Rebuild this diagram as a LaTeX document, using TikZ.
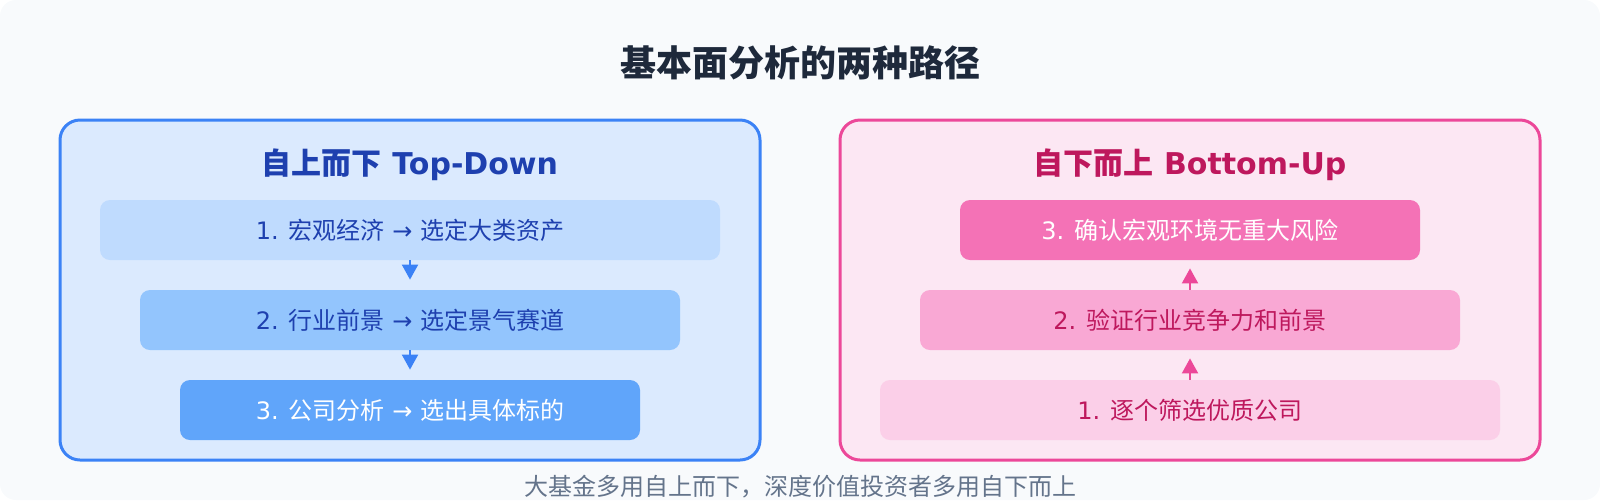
\documentclass[tikz,border=0pt]{standalone}
\usepackage{fontspec}
\setmainfont{Noto Sans CJK SC}
\newfontfamily\latin{DejaVu Sans}
\usetikzlibrary{arrows.meta}
\definecolor{bgcol}{HTML}{F8FAFC}
\definecolor{titlecol}{HTML}{1E293B}
\definecolor{notecol}{HTML}{64748B}
\definecolor{tdline}{HTML}{3B82F6}
\definecolor{tdfill}{HTML}{DBEAFE}
\definecolor{tdtext}{HTML}{1E40AF}
\definecolor{tdone}{HTML}{BFDBFE}
\definecolor{tdtwo}{HTML}{93C5FD}
\definecolor{tdthree}{HTML}{60A5FA}
\definecolor{buline}{HTML}{EC4899}
\definecolor{bufill}{HTML}{FCE7F3}
\definecolor{butext}{HTML}{BE185D}
\definecolor{buone}{HTML}{FBCFE8}
\definecolor{butwo}{HTML}{F9A8D4}
\definecolor{buthree}{HTML}{F472B6}
\newcommand\lat[1]{{\latin #1}}
\newcommand\tdx{410}
\newcommand\bux{1190}

\begin{document}
\begin{tikzpicture}[x=0.5pt,y=-0.5pt,
    panel/.style={rounded corners=10pt, line width=1.5pt},
    panelhead/.style={font=\fontsize{15}{17}\selectfont\bfseries},
    stepbox/.style={rounded corners=5pt, minimum height=30pt, inner sep=0pt, font=\fontsize{12}{14}\selectfont},
    flow/.style={line width=1pt, -{Triangle[width=8pt,length=7.5pt]}}
]
    \useasboundingbox (0,0) rectangle (1600,500);
    % --- Background
    \fill[bgcol, rounded corners=8pt] (0,0) rectangle (1600,500);
    \node[font=\fontsize{18}{20}\selectfont\bfseries, text=titlecol] (title) at (800,63) {基本面分析的两种路径};
    % --- Top-Down panel
    \draw[panel, draw=tdline, fill=tdfill] (60,120) rectangle (760,460);
    \node[panelhead, text=tdtext] (tdhead) at (\tdx,165) {自上而下\lat{ Top-Down}};
    \node[stepbox, fill=tdone, text=tdtext, minimum width=310pt] (td1) at (\tdx,230) {\lat{1. }宏观经济\lat{ → }选定大类资产};
    \node[stepbox, fill=tdtwo, text=tdtext, minimum width=270pt] (td2) at (\tdx,320) {\lat{2. }行业前景\lat{ → }选定景气赛道};
    \node[stepbox, fill=tdthree, text=white, minimum width=230pt] (td3) at (\tdx,410) {\lat{3. }公司分析\lat{ → }选出具体标的};
    \draw[flow, tdline, shorten >=5pt] (td1) -- (td2);
    \draw[flow, tdline, shorten >=5pt] (td2) -- (td3);
    % --- Bottom-Up panel
    \draw[panel, draw=buline, fill=bufill] (840,120) rectangle (1540,460);
    \node[panelhead, text=butext] (buhead) at (\bux,165) {自下而上\lat{ Bottom-Up}};
    \node[stepbox, fill=buthree, text=white, minimum width=230pt] (bu3) at (\bux,230) {\lat{3. }确认宏观环境无重大风险};
    \node[stepbox, fill=butwo, text=butext, minimum width=270pt] (bu2) at (\bux,320) {\lat{2. }验证行业竞争力和前景};
    \node[stepbox, fill=buone, text=butext, minimum width=310pt] (bu1) at (\bux,410) {\lat{1. }逐个筛选优质公司};
    \draw[flow, buline, shorten >=4pt] (bu1) -- (bu2);
    \draw[flow, buline, shorten >=4pt] (bu2) -- (bu3);
    % --- Note
    \node[font=\fontsize{12}{14}\selectfont, text=notecol] (note) at (800,487) {大基金多用自上而下，深度价值投资者多用自下而上};
\end{tikzpicture}
\end{document}
